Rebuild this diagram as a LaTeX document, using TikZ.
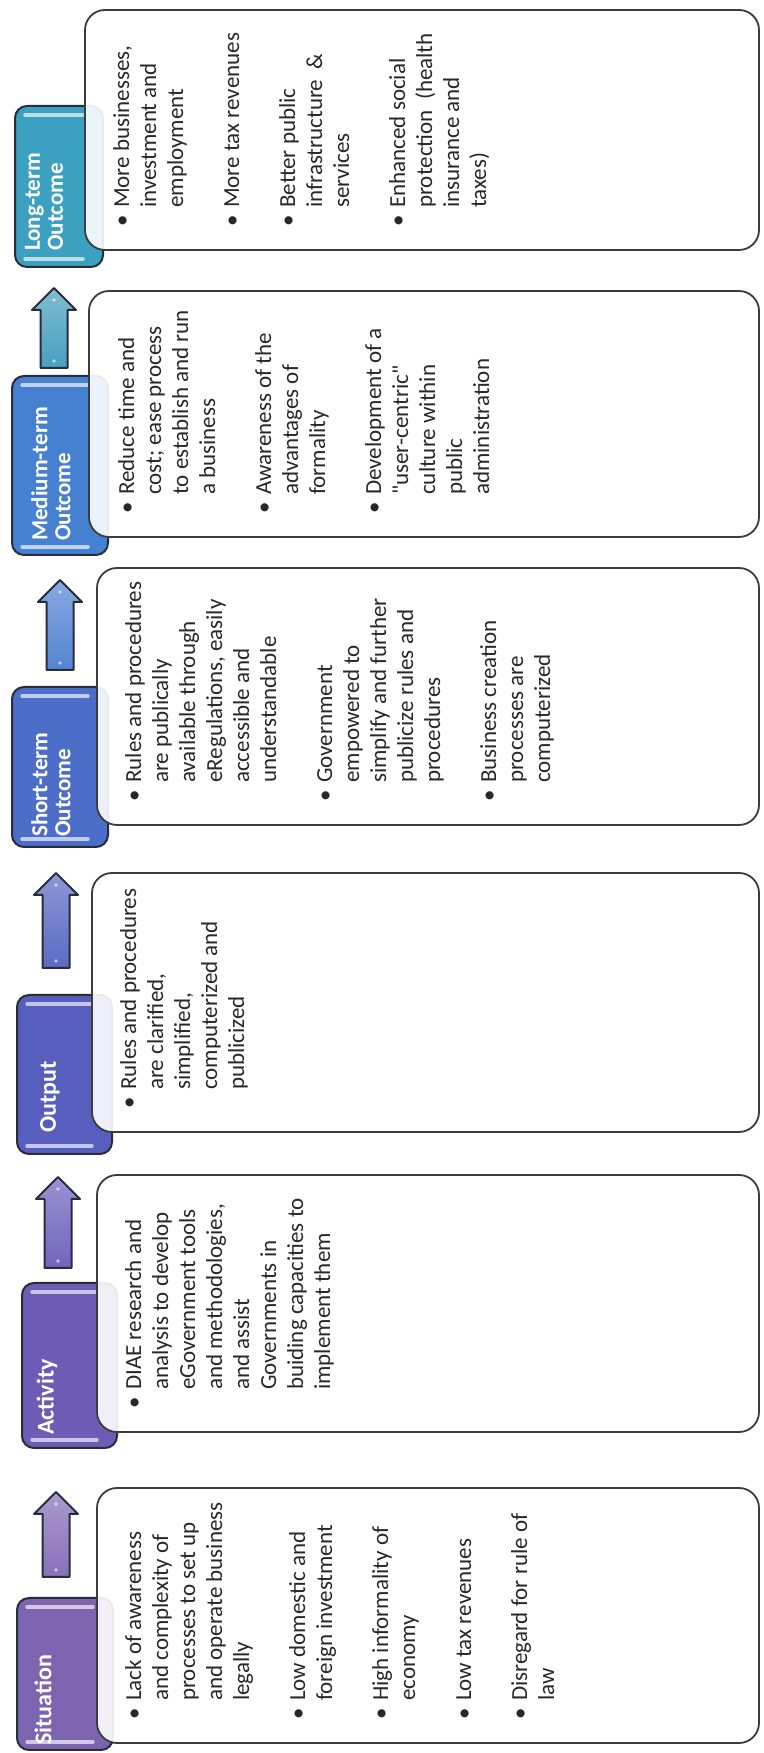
\documentclass[tikz,border=0pt]{standalone}
\usepackage{fontspec}
\setmainfont{Carlito}[Ligatures=TeXOff]
\definecolor{boxline}{RGB}{60,60,60}
\definecolor{tabline}{RGB}{40,45,58}
\definecolor{bodytxt}{RGB}{40,40,40}
\definecolor{sitC}{RGB}{125,100,175}
\definecolor{actC}{RGB}{108,92,182}
\definecolor{outC}{RGB}{88,94,190}
\definecolor{shoC}{RGB}{76,110,200}
\definecolor{medC}{RGB}{70,128,208}
\definecolor{lonC}{RGB}{60,160,192}
\definecolor{arA}{RGB}{135,112,185}
\definecolor{arB}{RGB}{112,100,190}
\definecolor{arC}{RGB}{92,106,196}
\definecolor{arD}{RGB}{84,132,210}
\definecolor{arE}{RGB}{72,160,190}
\newcommand{\bl}{\llap{\textbullet\hspace{7pt}}}
\newcommand{\fs}{\rule{0pt}{17pt}}
\newcommand{\mktab}[6]{%
  \node[tabshape, fill=#6, minimum width={(#4-#2)*1pt}, minimum height={(#5-#3)*1pt}] (#1) at (#2,#3) {};
  \draw[hl=#6] ({#2+8},{#3+20}) -- ({#2+8},{#5-10});
  \draw[hl=#6] ({#4-9},{#3+20}) -- ({#4-9},{#5-10});
}
\newcommand{\mkbox}[5]{%
  \node[boxshape, minimum width={(#4-#2)*1pt}, minimum height={(#5-#3)*1pt}] (#1) at (#2,#3) {};
}
\newcommand{\blockarrow}[4]{%
  \draw[barrow, top color=#4!70!white, bottom color=#4]
    (#1,{#3-13.5}) -- ({#2-22},{#3-13.5}) -- ({#2-22},{#3-22}) -- (#2,#3)
    -- ({#2-22},{#3+22}) -- ({#2-22},{#3+13.5}) -- (#1,{#3+13.5}) -- cycle;
  \fill[white, opacity=0.6] ({#1+7},#3) circle (1.8pt);
  \fill[white, opacity=0.6] ({#2-12},#3) circle (1.8pt);
}
\begin{document}
\begin{tikzpicture}[x=1pt,y=1pt,
  tabshape/.style={draw=tabline, line width=2pt, rounded corners=12pt, inner sep=0pt, outer sep=0pt, anchor=south west},
  boxshape/.style={draw=boxline, line width=1.8pt, rounded corners=20pt, fill=white, fill opacity=0.9, inner sep=0pt, outer sep=0pt, anchor=south west},
  hl/.style={line width=3.5pt, line cap=round, draw=#1!35!white},
  lab1/.style={text=white, font=\fontsize{24}{24}\selectfont\bfseries, anchor=west, inner sep=0pt, align=left},
  lab2/.style={text=white, font=\fontsize{23}{23}\selectfont\bfseries, anchor=west, inner sep=0pt, align=left},
  body/.style={text=bodytxt, font=\fontsize{23}{27}\selectfont, anchor=north west, inner sep=0pt, align=left},
  barrow/.style={draw=tabline, line width=2pt, line join=round}]
\useasboundingbox (0,0) rectangle (763,1753);
\fill[white] (0,0) rectangle (763,1753);
\clip (0,0) rectangle (763,1753);
\begin{scope}[shift={(763,0)}, rotate=90, transform shape]
  % tabs
  \mktab{tabSit}{3}{650}{155}{746}{sitC}
  \mktab{tabAct}{305}{646}{470}{741}{actC}
  \mktab{tabOut}{599}{651}{758}{746}{outC}
  \mktab{tabSho}{906}{655}{1066}{751}{shoC}
  \mktab{tabMed}{1198}{655}{1377}{751}{medC}
  \mktab{tabLon}{1486}{660}{1647}{748}{lonC}
  % boxes
  \mkbox{boxSit}{10}{4}{265}{666}
  \mkbox{boxAct}{321}{4}{578}{666}
  \mkbox{boxOut}{621}{4}{880}{671}
  \mkbox{boxSho}{928}{4}{1185}{666}
  \mkbox{boxMed}{1216}{4}{1462}{674}
  \mkbox{boxLon}{1503}{4}{1743}{678}
  % labels
  \node[lab1] (labSit) at (8,720) {Situation};
  \node[lab1] (labAct) at (318,716) {Activity};
  \node[lab1] (labOut) at (620,713) {Output};
  \node[lab2] (labSho) at (916,712) {Short-term\\Outcome};
  \node[lab2] (labMed) at (1212,712) {Medium-term\\Outcome};
  \node[lab2] (labLon) at (1502,719) {Long-term\\Outcome};
  % arrows
  \blockarrow{176}{261}{707}{arA}
  \blockarrow{485}{576}{705}{arB}
  \blockarrow{785}{880}{707}{arC}
  \blockarrow{1083}{1173}{703}{arD}
  \blockarrow{1385}{1465}{709}{arE}
  % body texts
  \node[body] (txtSit) at (52,639) {\fs\bl Lack of awareness\\ and complexity of\\ processes to set up\\ and operate business\\ legally\\[29pt]
    \bl Low domestic and\\ foreign investment\\[29pt]
    \bl High informality of\\ economy\\[29pt]
    \bl Low tax revenues\\[29pt]
    \bl Disregard for rule of\\ law};
  \node[body] (txtAct) at (363,639) {\fs\bl DIAE research and\\ analysis to develop\\ eGovernment tools\\ and methodologies,\\ and assist\\ Governments in\\ buiding capacities to\\ implement them};
  \node[body] (txtOut) at (663,644) {\fs\bl Rules and procedures\\ are clarified,\\ simplified,\\ computerized and\\ publicized};
  \node[body] (txtSho) at (970,639) {\fs\bl Rules and procedures\\ are publically\\ available through\\ eRegulations, easily\\ accessible and\\ understandable\\[29pt]
    \bl Government\\ empowered to\\ simplify and further\\ publicize rules and\\ procedures\\[29pt]
    \bl Business creation\\ processes are\\ computerized};
  \node[body] (txtMed) at (1258,646) {\fs\bl Reduce time and\\ cost; ease process\\ to establish and run\\ a business\\[29pt]
    \bl Awareness of the\\ advantages of\\ formality\\[29pt]
    \bl Development of a\\ "user-centric"\\ culture within\\ public\\ administration};
  \node[body] (txtLon) at (1545,651) {\fs\bl More businesses,\\ investment and\\ employment\\[29pt]
    \bl More tax revenues\\[29pt]
    \bl Better public\\ infrastructure \ \&\\ services\\[29pt]
    \bl Enhanced social\\ protection \ (health\\ insurance and\\ taxes)};
\end{scope}
\end{tikzpicture}
\end{document}
